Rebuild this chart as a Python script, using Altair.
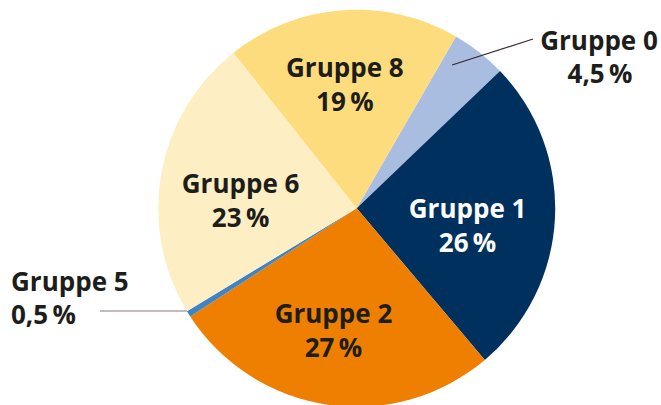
import math
import altair as alt
import pandas as pd

# ---- data ----
groups = ["Gruppe 0", "Gruppe 1", "Gruppe 2", "Gruppe 5", "Gruppe 6", "Gruppe 8"]
values = [4.5, 26, 27, 0.5, 23, 19]
pct_labels = ["4,5\u2009%", "26\u2009%", "27\u2009%", "0,5\u2009%", "23\u2009%", "19\u2009%"]
colors = ["#A9BDE0", "#00305E", "#EE7F00", "#3F84C5", "#FDEFC3", "#FDDC7E"]

df = pd.DataFrame({
    "group": groups,
    "value": values,
    "pct": pct_labels,
    "idx": list(range(len(groups))),
})

# ---- styling ----
CX, CY = 356.7, 208.3
R = 198.5
START = math.radians(30)
FONT = "Open Sans"
FS = 26
DARK = "#1d1d1b"

theta_scale = alt.Scale(domain=[0, 100], range=[START, START + 2 * math.pi])
color_scale = alt.Scale(domain=groups, range=colors)

center = dict(x=alt.value(CX), y=alt.value(CY))

arcs = alt.Chart().mark_arc(outerRadius=R, strokeWidth=0).encode(
    theta=alt.Theta("start:Q", scale=theta_scale),
    theta2="end:Q",
    color=alt.Color("group:N", scale=color_scale, legend=None),
    **center,
)

# inside label placement: group -> (radius, dx, dy, color)
inside = {
    "Gruppe 8": (121, -3, -2, DARK),
    "Gruppe 6": (118, 0, 15, DARK),
    "Gruppe 1": (111, 0, 13, "white"),
    "Gruppe 2": (125, -5, 0, DARK),
}

layers = [arcs]
for g, (r, dx, dy, col) in inside.items():
    for field, off in (("group", -17), ("pct", 17)):
        layers.append(
            alt.Chart().mark_text(
                radius=r, dx=dx, dy=dy + off, font=FONT, fontSize=FS,
                fontWeight="bold", color=col, align="center", baseline="middle",
            ).encode(
                theta=alt.Theta("mid:Q", scale=theta_scale),
                text=f"{field}:N",
                **center,
            ).transform_filter(alt.datum.group == g)
        )

# outside labels with leader lines
def outside_text(g, field, x, y, align):
    return alt.Chart().mark_text(
        font=FONT, fontSize=FS, fontWeight="bold", color=DARK,
        align=align, baseline="middle",
    ).encode(
        text=f"{field}:N", x=alt.value(x), y=alt.value(y)
    ).transform_filter(alt.datum.group == g)

def leader(g, x1, y1, x2, y2, col):
    return alt.Chart().mark_rule(color=col, strokeWidth=1.2).encode(
        x=alt.value(x1), y=alt.value(y1), x2=alt.value(x2), y2=alt.value(y2)
    ).transform_filter(alt.datum.group == g)

layers += [
    leader("Gruppe 0", 452, 65, 533, 39, "#3a2a2a"),
    outside_text("Gruppe 0", "group", 599, 42, "center"),
    outside_text("Gruppe 0", "pct", 600, 75, "center"),
    leader("Gruppe 5", 100, 311, 187, 311, "#857a7a"),
    outside_text("Gruppe 5", "group", 11, 283, "left"),
    outside_text("Gruppe 5", "pct", 11, 316, "left"),
]

chart = alt.layer(*layers, data=df).transform_window(
    end="sum(value)", sort=[alt.SortField("idx")], frame=[None, 0]
).transform_calculate(
    start="datum.end - datum.value",
    mid="datum.end - datum.value / 2",
).properties(
    width=661, height=405, padding=0, autosize=alt.AutoSizeParams(type="none")
).configure_view(stroke=None)

chart.save("out.html", embed_options={"renderer": "svg", "actions": False})
